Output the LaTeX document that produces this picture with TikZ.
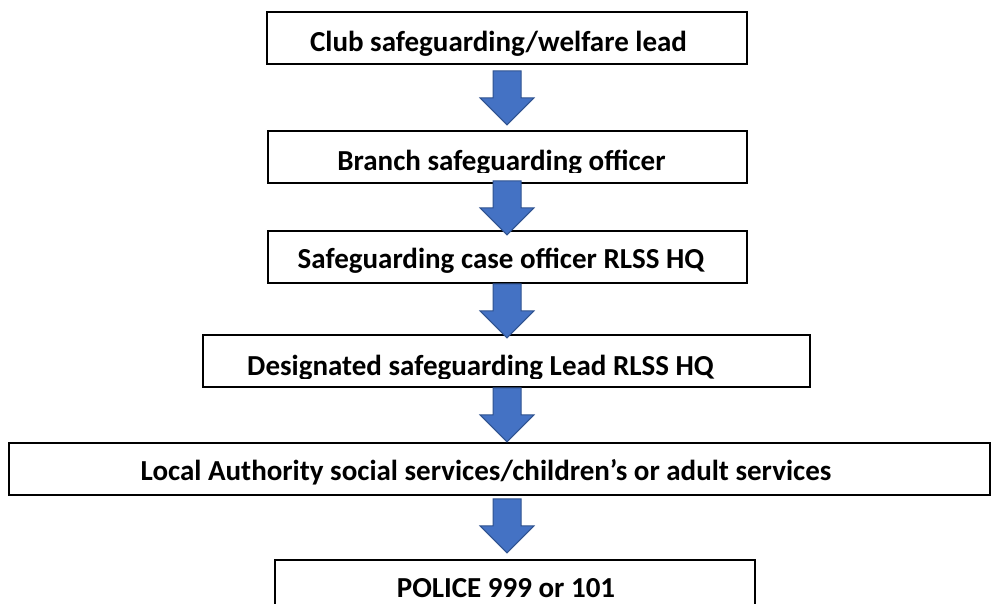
\documentclass[tikz,border=0pt]{standalone}
\usepackage{fontspec}
\setmainfont{Carlito}
\usetikzlibrary{calc}
\definecolor{arrowblue}{HTML}{4472C4}
\definecolor{arrowedge}{HTML}{2F528F}
\begin{document}
\begin{tikzpicture}[x=1pt,y=-1pt,
  box/.style={draw=black,line width=1.6pt,fill=white,inner sep=0pt,minimum height=52pt},
  lbl/.style={anchor=base,inner sep=0pt,font=\bfseries\fontsize{29}{34}\selectfont},
  blockarr/.pic={\draw[fill=arrowblue,draw=arrowedge,line width=1pt]
     (-14,0) -- (14,0) -- (14,27) -- (27,27) -- (0,54) -- (-27,27) -- (-14,27) -- cycle;}]
\useasboundingbox (0,0) rectangle (993,603);
\clip (0,0) rectangle (993,603);
\fill[white] (0,0) rectangle (993,603);
\coordinate (ax) at (507,0);
% boxes
\node[box,minimum width=480pt] (b1) at (507,38) {};
\node[box,minimum width=479pt] (b2) at (507.5,157) {};
\node[box,minimum width=479pt] (b3) at (507.5,257) {};
\node[box,minimum width=607pt] (b4) at (506.5,361) {};
\node[box,minimum width=981pt] (b5) at (499.5,469) {};
\node[box,minimum width=480pt,minimum height=70pt] (b6) at (515,595) {};
% texts
\node[lbl] (t1) at (498.5,51) {Club safeguarding/welfare lead};
\begin{scope}
  \clip (b2.north west) rectangle ($(b2.east)+(0,15)$);
  \node[lbl] (t2) at (501.5,170) {Branch safeguarding officer};
\end{scope}
\begin{scope}
  \clip (b3.north west) rectangle ($(b3.east)+(0,15)$);
  \node[lbl] (t3) at (501,268) {Safeguarding case officer RLSS HQ};
\end{scope}
\begin{scope}
  \clip (b4.north west) rectangle ($(b4.east)+(0,17)$);
  \node[lbl] (t4) at (480.5,375) {Designated safeguarding Lead RLSS HQ};
\end{scope}
\node[lbl] (t5) at (486,480) {Local Authority social services/children’s or adult services};
\node[lbl] (t6) at (506,597) {POLICE 999 or 101};
% block arrows
\pic at ($(b1.south -| ax)+(0,6)$) {blockarr};
\pic at ($(b2.south -| ax)+(0,-3)$) {blockarr};
\pic at ($(b3.south -| ax)+(0,0)$) {blockarr};
\pic at ($(b4.south -| ax)+(0,0)$) {blockarr};
\pic at ($(b5.south -| ax)+(0,3)$) {blockarr};
\end{tikzpicture}
\end{document}
